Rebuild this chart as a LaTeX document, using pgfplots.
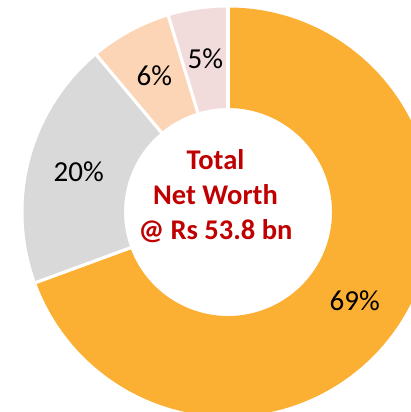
\documentclass[border=0pt]{standalone}
\usepackage{pgfplots}
\usepackage{pgfplotstable}
\pgfplotsset{compat=1.18}
\usepackage{fontspec}
\setmainfont{Carlito}
\definecolor{cOrange}{RGB}{251,176,52}
\definecolor{cGray}{RGB}{217,217,217}
\definecolor{cPeach}{RGB}{251,213,181}
\definecolor{cPink}{RGB}{242,220,219}
\definecolor{cRed}{RGB}{192,0,0}

\pgfplotstableread{
value label
69.4 69
19.5 20
6.4 6
4.7 5
}\donutdata

\newcommand\Rout{204.5}
\newcommand\Rin{104}
\newcommand\Rlab{154.5}

\newcommand\slice[3]{%
  \fill[#3] (axis cs:{\Rout*cos(#1)},{\Rout*sin(#1)})
    arc[start angle=#1, end angle=#2, radius=\Rout pt]
    -- (axis cs:{\Rin*cos(#2)},{\Rin*sin(#2)})
    arc[start angle=#2, end angle=#1, radius=\Rin pt] -- cycle;}
\newcommand\sep[1]{%
  \draw[white, line width=3.2pt] (axis cs:{(\Rin-3)*cos(#1)},{(\Rin-3)*sin(#1)})
    -- (axis cs:{(\Rout+3)*cos(#1)},{(\Rout+3)*sin(#1)});}
\newcommand\lab[3]{%
  \node[font=\fontsize{29}{34}\selectfont, text=black] at
    (axis cs:{\Rlab*cos((#1+#2)/2)},{\Rlab*sin((#1+#2)/2)}) {#3\%};}

\begin{document}
\begin{tikzpicture}
\pgfplotstablegetelem{0}{value}\of\donutdata \let\vA\pgfplotsretval
\pgfplotstablegetelem{1}{value}\of\donutdata \let\vB\pgfplotsretval
\pgfplotstablegetelem{2}{value}\of\donutdata \let\vC\pgfplotsretval
\pgfplotstablegetelem{3}{value}\of\donutdata \let\vD\pgfplotsretval
\pgfplotstablegetelem{0}{label}\of\donutdata \let\lA\pgfplotsretval
\pgfplotstablegetelem{1}{label}\of\donutdata \let\lB\pgfplotsretval
\pgfplotstablegetelem{2}{label}\of\donutdata \let\lC\pgfplotsretval
\pgfplotstablegetelem{3}{label}\of\donutdata \let\lD\pgfplotsretval
\pgfmathsetmacro\aO{90}
\pgfmathsetmacro\aA{\aO-3.6*\vA}
\pgfmathsetmacro\aB{\aA-3.6*\vB}
\pgfmathsetmacro\aC{\aB-3.6*\vC}
\pgfmathsetmacro\aD{\aC-3.6*\vD}
\begin{axis}[
  width=411pt, height=412pt, scale only axis,
  xmin=-228, xmax=183, ymin=-200, ymax=212,
  hide axis, clip=true,
]
\addplot[draw=none] coordinates {(0,0)};
\slice{\aO}{\aA}{cOrange}
\slice{\aA}{\aB}{cGray}
\slice{\aB}{\aC}{cPeach}
\slice{\aC}{\aD}{cPink}
\sep{\aO}
\sep{\aA}
\sep{\aB}
\sep{\aC}
\lab{\aO}{\aA}{\lA}
\lab{\aA}{\aB}{\lB}
\lab{\aB}{\aC}{\lC}
\lab{\aC}{\aD}{\lD}
\node[align=center, text=cRed, font=\bfseries\fontsize{28.5}{35}\selectfont]
  at (axis cs:-12.5,16) {Total\\Net Worth\\@ Rs 53.8 bn};
\end{axis}
\pgfresetboundingbox
\path (current axis.south west) rectangle (current axis.north east);
\end{tikzpicture}
\end{document}
